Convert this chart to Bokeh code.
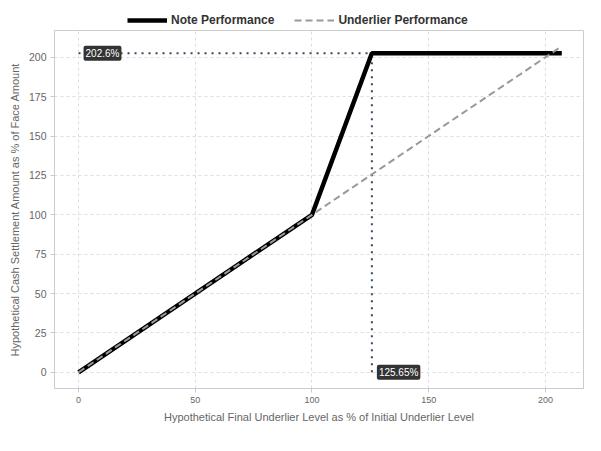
from bokeh.plotting import figure
from bokeh.layouts import column
from bokeh.models import Range1d, Legend, LegendItem, Label, FixedTicker
from bokeh.embed import file_html
from bokeh.resources import INLINE

# data
note_x = [0, 100, 125.65, 207]
note_y = [0, 100, 202.6, 202.6]
under_x = [0, 207]
under_y = [0, 207]
cap_level = 202.6
cap_point = 125.65
x_ticks = [0, 50, 100, 150, 200]
y_ticks = [0, 25, 50, 75, 100, 125, 150, 175, 200]
series_names = ["Note Performance", "Underlier Performance"]

FONT = "Liberation Sans"

NOTE_STYLE = dict(line_color="black", line_width=4.5)
UNDER_STYLE = dict(line_color="#999999", line_width=2, line_dash="7 4")

p = figure(width=585, height=405, output_backend="svg", toolbar_location=None,
           x_range=Range1d(-10.3, 216.3), y_range=Range1d(-10.3, 217.0),
           min_border_left=54, min_border_right=2, min_border_bottom=47, min_border_top=0)

p.outline_line_color = "#cccccc"
p.background_fill_color = "white"
p.border_fill_color = "white"

for ax in (p.xaxis[0], p.yaxis[0]):
    ax.axis_line_color = None
    ax.major_tick_line_color = "#c5ccd6"
    ax.major_tick_out = 4
    ax.major_tick_in = 0
    ax.minor_tick_line_color = None
    ax.major_label_text_font = FONT
    ax.major_label_text_color = "#666666"
    ax.major_label_standoff = 4
    ax.axis_label_text_font = FONT
    ax.axis_label_text_color = "#666666"
    ax.axis_label_text_font_size = "11px"
    ax.axis_label_text_font_style = "normal"

p.xaxis[0].major_label_text_font_size = "9px"
p.yaxis[0].major_label_text_font_size = "10.5px"
p.xaxis[0].axis_line_color = "#c5ccd6"
p.xaxis[0].ticker = FixedTicker(ticks=x_ticks)
p.yaxis[0].ticker = FixedTicker(ticks=y_ticks)
p.xaxis[0].axis_label = "Hypothetical Final Underlier Level as % of Initial Underlier Level"
p.yaxis[0].axis_label = "Hypothetical Cash Settlement Amount as % of Face Amount"

for g in (p.xgrid[0], p.ygrid[0]):
    g.grid_line_color = "#dddddd"
    g.grid_line_dash = "3 3"
    g.grid_line_width = 1

# reference dotted lines
p.line([0, cap_point], [cap_level, cap_level], line_color="#34495e", line_dash="2 5", line_width=2)
p.line([cap_point, cap_point], [0, cap_level], line_color="#34495e", line_dash="2 5", line_width=2)

p.line(note_x, note_y, **NOTE_STYLE)
p.line(under_x, under_y, **UNDER_STYLE)

for lx, ly, txt in [(0, cap_level, f"{cap_level}%"), (cap_point, 0, f"{cap_point}%")]:
    p.add_layout(Label(x=lx, y=ly, text=txt, x_offset=5, y_offset=0,
                       text_baseline="middle", text_align="left", text_color="white",
                       text_font=FONT, text_font_size="10px",
                       background_fill_color="#333333", padding=2, border_radius=2))

# legend strip on top (renderers hold off-range copies so only the legend shows)
lg = figure(width=585, height=30, output_backend="svg", toolbar_location=None,
            x_range=Range1d(0, 1), y_range=Range1d(0, 1),
            min_border_left=0, min_border_right=0, min_border_top=0, min_border_bottom=0)
lg.axis.visible = False
lg.grid.visible = False
lg.outline_line_color = None
ln1 = lg.line(note_x, note_y, **NOTE_STYLE)
ln2 = lg.line(under_x, under_y, **UNDER_STYLE)
ln1.visible = True
lg.x_range = Range1d(-1000, -999)
legend = Legend(items=[LegendItem(label=series_names[0], renderers=[ln1]),
                       LegendItem(label=series_names[1], renderers=[ln2])],
                orientation="horizontal", location=(73, 3),
                label_text_font=FONT, label_text_font_style="bold",
                label_text_font_size="12px", label_text_color="#333333",
                glyph_width=40, glyph_height=14, label_height=14, label_standoff=4,
                spacing=20, padding=4, margin=0, border_line_color=None,
                background_fill_alpha=0)
lg.add_layout(legend, "center")

layout = column(lg, p, spacing=0)
open("out.html", "w").write(file_html(layout, INLINE))
